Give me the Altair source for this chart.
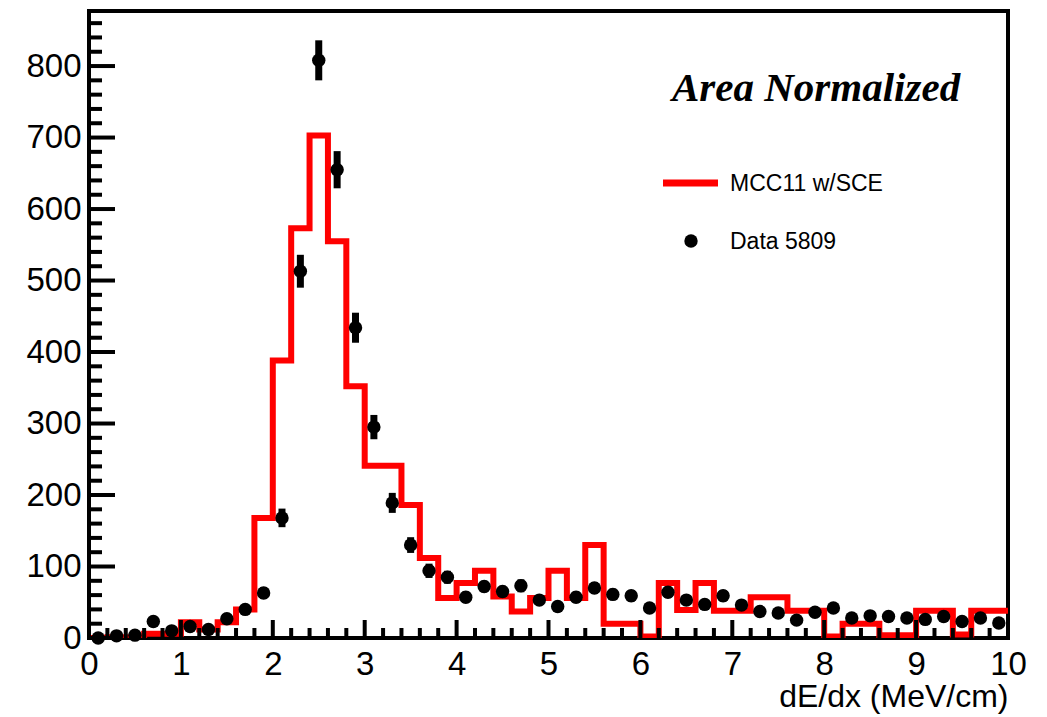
import altair as alt
import pandas as pd
import numpy as np

# ---------------- data ----------------
# MC histogram (bin width 0.2, lower edges 0.0 ... 9.8)
mc_values = [0, 1, 1, 6, 6, 22, 12, 22, 40, 168,
             388, 573, 703, 555, 352, 241, 241, 186, 112, 56,
             77, 94, 58, 37, 56, 94, 56, 130, 20, 20,
             2, 77, 39, 77, 38, 38, 57, 57, 38, 38,
             2, 20, 20, 4, 4, 38, 38, 5, 38, 38]

# Data points (bin centres 0.1 ... 9.9)
data_values = [0, 3, 4, 23, 10, 16, 12, 27, 40, 63,
               168, 513, 808, 655, 434, 295, 189, 130, 94, 85,
               57, 72, 65, 73, 53, 44, 57, 70, 61, 59,
               42, 64, 53, 47, 59, 46, 37, 35, 25, 36,
               42, 28, 31, 30, 28, 26, 30, 23, 28, 21]
data_errors = [0, 2, 2, 5, 3, 4, 3, 5, 6, 8,
               13, 23, 28, 26, 21, 17, 14, 11, 10, 9,
               8, 8, 8, 9, 7, 7, 8, 8, 8, 8,
               6, 8, 7, 7, 8, 7, 6, 6, 5, 6,
               6, 5, 6, 5, 5, 5, 5, 5, 5, 5]

x_major_ticks = [0, 1, 2, 3, 4, 5, 6, 7, 8, 9, 10]
y_major_ticks = [0, 100, 200, 300, 400, 500, 600, 700, 800]

legend_labels = ["MCC11 w/SCE", "Data 5809"]
annotation = "Area Normalized"
x_title = "dE/dx (MeV/cm)"

# ---------------- tables ----------------
bin_w = 0.2
edges = np.round(np.arange(len(mc_values) + 1) * bin_w, 1)
mc_df = pd.DataFrame({"x": edges, "y": mc_values + [mc_values[-1]]})

centres = np.round(np.arange(len(data_values)) * bin_w + bin_w / 2, 2)
pts_df = pd.DataFrame({"x": centres, "y": data_values, "err": data_errors})
pts_df["lo"] = pts_df["y"] - pts_df["err"]
pts_df["hi"] = pts_df["y"] + pts_df["err"]

x_minor = [v for v in np.round(np.arange(0, 10.01, 0.2), 1) if abs(v - round(v)) > 1e-6]
y_minor = [v for v in range(0, 877, 20) if v % 100 != 0]

W, H = 919, 627
XMAX, YMAX = 10, 877
FONT = "Liberation Sans"

xs = alt.Scale(domain=[0, XMAX], nice=False, zero=False)
ys = alt.Scale(domain=[0, YMAX], nice=False)

x_axis = alt.Axis(values=x_major_ticks, ticks=False, tickSize=0, domain=False, grid=False,
                  labelFont=FONT, labelFontSize=33, labelPadding=10, labelColor="black",
                  labelFlush=False, labelOverlap=False, format="d",
                  title=x_title, titleFont=FONT, titleFontSize=32, titleFontWeight="normal",
                  titleColor="black", titleAnchor="end", titleAlign="right",
                  titleX=W, titleY=68, titleBaseline="alphabetic")
y_axis = alt.Axis(values=y_major_ticks, ticks=False, tickSize=0, domain=False, grid=False,
                  labelFont=FONT, labelFontSize=33, labelPadding=8, labelColor="black",
                  labelFlush=False, labelOverlap=False, format="d", title="")

# ticks (inward, ROOT style)
ytick_major = alt.Chart(pd.DataFrame({"v": y_major_ticks})).mark_rule(
    color="black", strokeWidth=4).encode(
    y=alt.Y("v:Q", scale=ys, axis=y_axis), x=alt.value(0), x2=alt.value(26))
ytick_minor = alt.Chart(pd.DataFrame({"v": y_minor})).mark_rule(
    color="black", strokeWidth=4).encode(
    y=alt.Y("v:Q", scale=ys, axis=y_axis), x=alt.value(0), x2=alt.value(13))
xtick_major = alt.Chart(pd.DataFrame({"v": x_major_ticks})).mark_rule(
    color="black", strokeWidth=4).encode(
    x=alt.X("v:Q", scale=xs, axis=x_axis), y=alt.value(H), y2=alt.value(H - 18))
xtick_minor = alt.Chart(pd.DataFrame({"v": x_minor})).mark_rule(
    color="black", strokeWidth=4).encode(
    x=alt.X("v:Q", scale=xs, axis=x_axis), y=alt.value(H), y2=alt.value(H - 10))

mc_line = alt.Chart(mc_df).mark_line(
    interpolate="step-after", color="#ff0000", strokeWidth=6, clip=True).encode(
    x=alt.X("x:Q", scale=xs, axis=x_axis),
    y=alt.Y("y:Q", scale=ys, axis=y_axis))

err_bars = alt.Chart(pts_df).mark_rule(color="black", strokeWidth=7).encode(
    x=alt.X("x:Q", scale=xs, axis=x_axis),
    y=alt.Y("lo:Q", scale=ys, axis=y_axis), y2="hi:Q")

points = alt.Chart(pts_df).mark_circle(color="black", opacity=1, size=180).encode(
    x=alt.X("x:Q", scale=xs, axis=x_axis),
    y=alt.Y("y:Q", scale=ys, axis=y_axis))

# legend
leg_line = alt.Chart(pd.DataFrame({"t": [legend_labels[0]]})).mark_rule(
    color="#ff0000", strokeWidth=7).encode(
    x=alt.value(574), x2=alt.value(629), y=alt.value(172))
leg_dot = alt.Chart(pd.DataFrame({"t": [legend_labels[1]]})).mark_circle(
    color="black", opacity=1, size=180).encode(x=alt.value(602), y=alt.value(230))
leg_text1 = alt.Chart(pd.DataFrame({"t": [legend_labels[0]]})).mark_text(
    font=FONT, fontSize=23, align="left", baseline="middle", color="black").encode(
    x=alt.value(641), y=alt.value(173), text="t:N")
leg_text2 = alt.Chart(pd.DataFrame({"t": [legend_labels[1]]})).mark_text(
    font=FONT, fontSize=23, align="left", baseline="middle", color="black").encode(
    x=alt.value(641), y=alt.value(231), text="t:N")

note = alt.Chart(pd.DataFrame({"t": [annotation]})).mark_text(
    font="Liberation Serif", fontSize=41, fontStyle="italic", fontWeight="bold",
    align="left", baseline="alphabetic", color="black").encode(
    x=alt.value(583), y=alt.value(90), text="t:N")

chart = alt.layer(
    mc_line, ytick_minor, ytick_major, xtick_minor, xtick_major,
    err_bars, points, leg_line, leg_dot, leg_text1, leg_text2, note
).properties(
    width=W, height=H,
    autosize=alt.AutoSizeParams(type="none"),
    padding={"left": 89, "top": 11, "right": 39, "bottom": 79},
    background="white",
).configure_view(stroke="black", strokeWidth=4)

chart.save("out.html", embed_options={"renderer": "svg", "actions": False})
